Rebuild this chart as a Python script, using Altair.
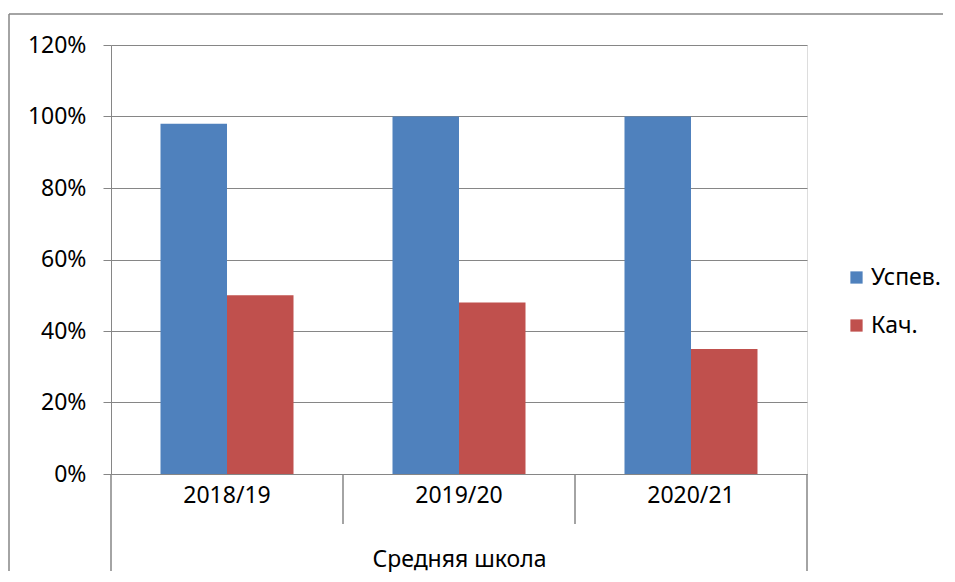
import altair as alt
import pandas as pd

years = ["2018/19", "2019/20", "2020/21"]
series = ["Успев.", "Кач."]
uspev = [0.98, 1.00, 1.00]
kach = [0.50, 0.48, 0.35]
group_label = "Средняя школа"
colors = ["#4F81BD", "#C0504D"]
y_ticks = [0, 0.2, 0.4, 0.6, 0.8, 1.0, 1.2]

rows = []
for i, y in enumerate(years):
    rows.append({"year": y, "series": series[0], "value": uspev[i], "ord": 0})
    rows.append({"year": y, "series": series[1], "value": kach[i], "ord": 1})
df = pd.DataFrame(rows)

FONT = "Noto Sans"
FS = 23
GRID = "#868686"
W, H = 696, 429

bars = alt.Chart(df).mark_bar().encode(
    x=alt.X("year:N", sort=years,
            scale=alt.Scale(paddingInner=0.4267, paddingOuter=0.2134),
            axis=alt.Axis(title=group_label, labelAngle=0, labelFontSize=FS,
                          labelFont=FONT, labelColor="#000", ticks=False,
                          labelPadding=10, domainColor=GRID, titleFont=FONT,
                          titleFontSize=FS, titleFontWeight="normal",
                          titleColor="#000", titlePadding=41)),
    xOffset=alt.XOffset("series:N", sort=series),
    y=alt.Y("value:Q", scale=alt.Scale(domain=[0, 1.2]),
            axis=alt.Axis(title=None, values=y_ticks, format=".0%",
                          grid=True, gridColor=GRID, tickColor=GRID,
                          tickSize=8, domainColor=GRID, labelFontSize=FS,
                          labelFont=FONT, labelColor="#000", labelPadding=17)),
    color=alt.Color("series:N", sort=series,
                    scale=alt.Scale(domain=series, range=colors),
                    legend=alt.Legend(title=None, orient="none", legendX=734,
                                      legendY=221, symbolType="square",
                                      symbolSize=150, symbolStrokeWidth=0,
                                      labelFontSize=FS, labelFont=FONT,
                                      labelColor="#000", rowPadding=24,
                                      labelOffset=3)),
)

bounds = pd.DataFrame({"pos": [0, 3]})
inner = pd.DataFrame({"pos": [1, 2]})
xs = alt.Scale(domain=[0, 3])

outer_sep = alt.Chart(bounds).mark_rule(color=GRID, strokeWidth=1.5).encode(
    x=alt.X("pos:Q", scale=xs, axis=None),
    y=alt.value(H), y2=alt.value(526),
)
inner_sep = alt.Chart(inner).mark_rule(color=GRID, strokeWidth=1.5).encode(
    x=alt.X("pos:Q", scale=xs, axis=None),
    y=alt.value(H), y2=alt.value(H + 50),
)

frame = pd.DataFrame({"k": [0]})
top_border = alt.Chart(frame).mark_rule(color=GRID, strokeWidth=1.5).encode(
    x=alt.value(-102), x2=alt.value(832), y=alt.value(-31),
)
left_border = alt.Chart(frame).mark_rule(color=GRID, strokeWidth=1.5).encode(
    x=alt.value(-102), y=alt.value(-31), y2=alt.value(526),
)

chart = alt.layer(bars, outer_sep, inner_sep, top_border, left_border).resolve_scale(
    x="independent"
).properties(
    width=W, height=H,
    padding={"left": 0, "top": 5, "right": 0, "bottom": 0},
).configure_view(stroke=None).configure(background="white")

chart.save("out.html", embed_options={"renderer": "svg", "actions": False})
